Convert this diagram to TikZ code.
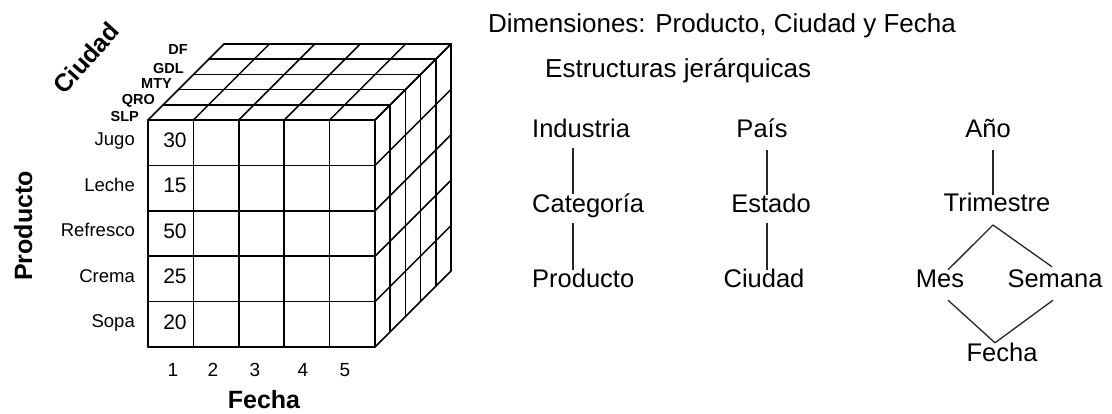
\documentclass[tikz,border=0pt]{standalone}
\usepackage{fontspec}
\setmainfont{Liberation Sans}
\usetikzlibrary{calc}
\tikzset{
  cube/.style={line width=1.5pt, black, line cap=round},
  hier/.style={font=\fontsize{25.5}{30}\selectfont, inner sep=0pt, text height=19pt, text depth=5pt},
  title/.style={font=\fontsize{26}{30}\selectfont, inner sep=0pt, anchor=base west},
  link/.style={line width=1.3pt, black!85},
  rowlab/.style={font=\fontsize{18.5}{22}\selectfont, anchor=base east, inner sep=0pt},
  cellnum/.style={font=\fontsize{21}{25}\selectfont, anchor=base, inner sep=0pt},
  colnum/.style={font=\fontsize{19}{23}\selectfont, anchor=base, inner sep=0pt},
  axislab/.style={font=\bfseries\fontsize{25}{30}\selectfont, inner sep=0pt},
  depthlab/.style={font=\bfseries\fontsize{14.5}{16}\selectfont, anchor=base east, inner sep=0pt},
}
\begin{document}
\begin{tikzpicture}[x=1pt,y=-1pt]
\useasboundingbox[fill=white] (0,0) rectangle (1112,414);

% ---- cube ----
% front face
\foreach \i in {0,...,5}{
  \draw[cube] ({148+45.4*\i},120) -- ({148+45.4*\i},347);
  \draw[cube] (148,{120+45.4*\i}) -- (375,{120+45.4*\i});
}
% top face
\foreach \k in {0,...,5}{
  \draw[cube] ({148+15.2*\k},{120-15.2*\k}) -- ({375+15.2*\k},{120-15.2*\k});
  \draw[cube] ({148+45.4*\k},120) -- ({224+45.4*\k},44);
}
% right face
\foreach \k in {0,...,5}{
  \draw[cube] ({375+15.2*\k},{120-15.2*\k}) -- ({375+15.2*\k},{347-15.2*\k});
  \draw[cube] (375,{120+45.4*\k}) -- (451,{44+45.4*\k});
}

% depth labels
\node[depthlab] (df)  at (188,55)  {DF};
\node[depthlab] (gdl) at (184,74)  {GDL};
\node[depthlab] (mty) at (172,89)  {MTY};
\node[depthlab] (qro) at (155,105) {QRO};
\node[depthlab] (slp) at (139,122) {SLP};

% row labels
\node[rowlab] (r1) at (135,146)   {Jugo};
\node[rowlab] (r2) at (135,191.4) {Leche};
\node[rowlab] (r3) at (135,236.8) {Refresco};
\node[rowlab] (r4) at (135,282.2) {Crema};
\node[rowlab] (r5) at (135,327.6) {Sopa};

% cell values
\node[cellnum] (v1) at (175,147.5) {30};
\node[cellnum] (v2) at (175,192.9) {15};
\node[cellnum] (v3) at (175,238.3) {50};
\node[cellnum] (v4) at (175,283.7) {25};
\node[cellnum] (v5) at (175,329.1) {20};

% column numbers
\node[colnum] (n1) at (173,376) {1};
\node[colnum] (n2) at (213,376) {2};
\node[colnum] (n3) at (255,376) {3};
\node[colnum] (n4) at (303,376) {4};
\node[colnum] (n5) at (345,376) {5};

% axis labels
\node[axislab, rotate=48] (ciudadax) at (86,58) {Ciudad};
\node[axislab, rotate=90, anchor=base] (productoax) at (32,226) {Producto};
\node[axislab, anchor=base] (fechaax) at (264,408) {Fecha};

% ---- titles ----
\node[title] (t1) at (488,33) {Dimensiones: Producto, Ciudad y Fecha};
\node[title] (t2) at (545,78) {Estructuras jerárquicas};

% ---- hierarchies ----
\node[hier, anchor=base west] (ind)  at (532,138) {Industria};
\node[hier, anchor=base west] (cat)  at (532,213) {Categoría};
\node[hier, anchor=base west] (prd)  at (532,288) {Producto};
\node[hier, anchor=base] (pais) at (762,138) {País};
\node[hier, anchor=base] (est)  at (771,213) {Estado};
\node[hier, anchor=base] (ciu)  at (764,288) {Ciudad};
\node[hier, anchor=base] (ano)  at (988,138) {Año};
\node[hier, anchor=base] (tri)  at (997,212) {Trimestre};
\node[hier, anchor=base] (mes)  at (940,288) {Mes};
\node[hier, anchor=base] (sem)  at (1055,288) {Semana};
\node[hier, anchor=base] (fec)  at (1002,362) {Fecha};

\coordinate (c1) at (573,0);
\coordinate (c2) at (767,0);
\coordinate (c3) at (993,225);

\draw[link, shorten <=5pt] (ind.south -| c1) -- (cat.north -| c1);
\draw[link, shorten <=5pt, shorten >=-1pt] (cat.south -| c1) -- (prd.north -| c1);
\draw[link, shorten <=7pt, shorten >=-1pt] (pais.south -| c2) -- (est.north -| c2);
\draw[link, shorten <=5pt, shorten >=-1pt] (est.south -| c2) -- (ciu.north -| c2);
\draw[link, shorten <=7pt, shorten >=-2pt] (ano.south -| c3) -- (tri.north -| c3);
\draw[link] (c3) -- ([xshift=8pt,yshift=-1pt]mes.north);
\draw[link] (c3) -- ([xshift=-3pt,yshift=2pt]sem.north);
\draw[link] ([xshift=8pt,yshift=-7pt]mes.south) -- ([xshift=-7pt]fec.north);
\draw[link] ([xshift=-2pt,yshift=-7pt]sem.south) -- ([xshift=-7pt]fec.north);
\end{tikzpicture}
\end{document}
